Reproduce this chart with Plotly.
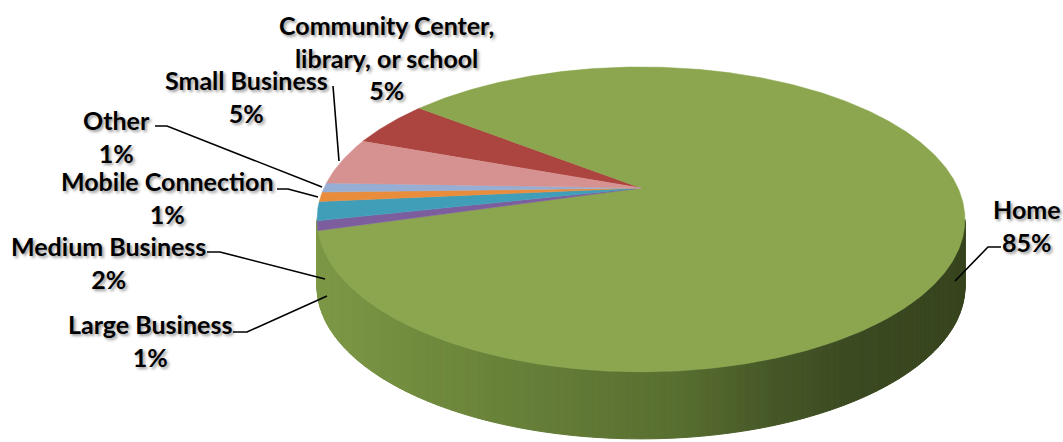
import numpy as np
import plotly.graph_objects as go

# ---- data -------------------------------------------------------------
categories = [
    "Community Center, library, or school",
    "Home",
    "Large Business",
    "Medium Business",
    "Mobile Connection",
    "Other",
    "Small Business",
]
shares = [5, 85, 1, 2, 1, 1, 5]          # percent
label_names = [
    "Community Center,<br>library, or school",
    "Home",
    "Large Business",
    "Medium Business",
    "Mobile Connection",
    "Other",
    "Small Business",
]
slice_colors = [
    (172, 68, 64),    # red
    (139, 166, 78),   # green
    (124, 94, 158),   # purple
    (64, 158, 184),   # aqua
    (233, 140, 60),   # orange
    (150, 174, 212),  # light blue
    (214, 146, 144),  # pink
]

# ---- 3-D pie geometry (pixel space) -----------------------------------
CX, CY = 641.0, 188.0      # projected centre of the top face
RX, RY = 317.0, 146.0      # radii of the top face
PERSP = 0.206              # perspective foreshortening (far side smaller)
DEPTH = 67.0               # thickness of the pie
START = 160.0              # angle (deg, counter-clockwise from +x) of first slice edge
N_FULL = 720

# label placement: (centre x, centre y) and leader polyline
label_layout = {
    "Community Center, library, or school": dict(pos=(386, 57), leader=None),
    "Home": dict(pos=(1027, 225), leader=[(1001, 247), (988, 247), (955, 281)]),
    "Large Business": dict(pos=(150, 340), leader=[(233, 332), (247, 332), (327, 296)]),
    "Medium Business": dict(pos=(108, 262), leader=[(207, 252), (220, 252), (325, 279)]),
    "Mobile Connection": dict(pos=(167, 197), leader=[(277, 189), (288, 189), (318, 197)]),
    "Other": dict(pos=(116, 136), leader=[(155, 126), (167, 126), (322, 187)]),
    "Small Business": dict(pos=(246, 96), leader=[(333, 86), (339, 161)]),
}


def project(theta_deg, drop=0.0):
    t = np.radians(theta_deg)
    u, v = np.cos(t), np.sin(t)
    s = 1.0 / (1.0 + PERSP * v)
    return CX + RX * u * s, CY - RY * v * s + drop


def rgb(c):
    return "rgb({},{},{})".format(*[int(round(x)) for x in c])


def side_shade(x):
    # left-to-right darkening of the pie wall
    xs = [318, 420, 560, 680, 760, 850, 965]
    cs = [(125, 152, 70), (113, 139, 62), (99, 123, 54), (88, 110, 48),
          (72, 90, 40), (59, 74, 33), (55, 68, 30)]
    return tuple(np.interp(x, xs, [c[k] for c in cs]) for k in range(3))


shares_arr = np.array(shares, dtype=float)
cum = np.concatenate([[0], np.cumsum(shares_arr)]) / shares_arr.sum() * 360.0
slice_start = START - cum[:-1]
slice_end = START - cum[1:]

fig = go.Figure()

# ---- wall: only the part between the two silhouette tangents is visible --
tangent = np.degrees(np.arcsin(PERSP))
n_strips = 240
edges = np.linspace(180.0 + tangent, 360.0 - tangent, n_strips + 1)
for a0, a1 in zip(edges[:-1], edges[1:]):
    ts = np.linspace(a0, a1, 4)
    xt, yt = project(ts)
    xb, yb = project(ts[::-1], DEPTH)
    xm, _ = project((a0 + a1) / 2)
    col = side_shade(xm)
    fig.add_trace(go.Scatter(
        x=np.concatenate([xt, xb, xt[:1]]),
        y=np.concatenate([yt, yb, yt[:1]]),
        mode="lines", fill="toself", fillcolor=rgb(col),
        line=dict(color=rgb(col), width=1),
        hoverinfo="skip", showlegend=False,
    ))

# ---- top face slices ----------------------------------------------------
for name, s0, s1, col in zip(categories, slice_start, slice_end, slice_colors):
    n = max(int(abs(s0 - s1) / 360 * N_FULL), 8)
    ts = np.linspace(s0, s1, n)
    xr, yr = project(ts)
    xs = np.concatenate([[CX], xr, [CX]])
    ys = np.concatenate([[CY], yr, [CY]])
    fig.add_trace(go.Scatter(
        x=xs, y=ys, mode="lines", fill="toself", fillcolor=rgb(col),
        line=dict(color=rgb(col), width=0.5),
        name=name, hoverinfo="name", showlegend=False,
    ))

# ---- leader lines and labels ------------------------------------------
annotations = []
for name, label, val in zip(categories, label_names, shares):
    lay = label_layout[name]
    if lay["leader"]:
        lx, ly = zip(*lay["leader"])
        fig.add_trace(go.Scatter(
            x=lx, y=ly, mode="lines", line=dict(color="black", width=1.6),
            hoverinfo="skip", showlegend=False,
        ))
    annotations.append(dict(
        x=lay["pos"][0], y=lay["pos"][1], xref="x", yref="y",
        text="<b>{}<br>{}%</b>".format(label, val),
        showarrow=False, align="center", xanchor="center", yanchor="middle",
        font=dict(family="Lato", size=25, color="black",
                  shadow="2px 2px 3px rgba(0,0,0,0.4)"),
    ))

fig.update_layout(
    width=1063, height=442,
    margin=dict(l=0, r=0, t=0, b=0),
    paper_bgcolor="white", plot_bgcolor="white",
    xaxis=dict(range=[0, 1063], visible=False, fixedrange=True),
    yaxis=dict(range=[442, 0], visible=False, fixedrange=True),
    annotations=annotations,
    showlegend=False,
)

fig.write_html("out.html")
